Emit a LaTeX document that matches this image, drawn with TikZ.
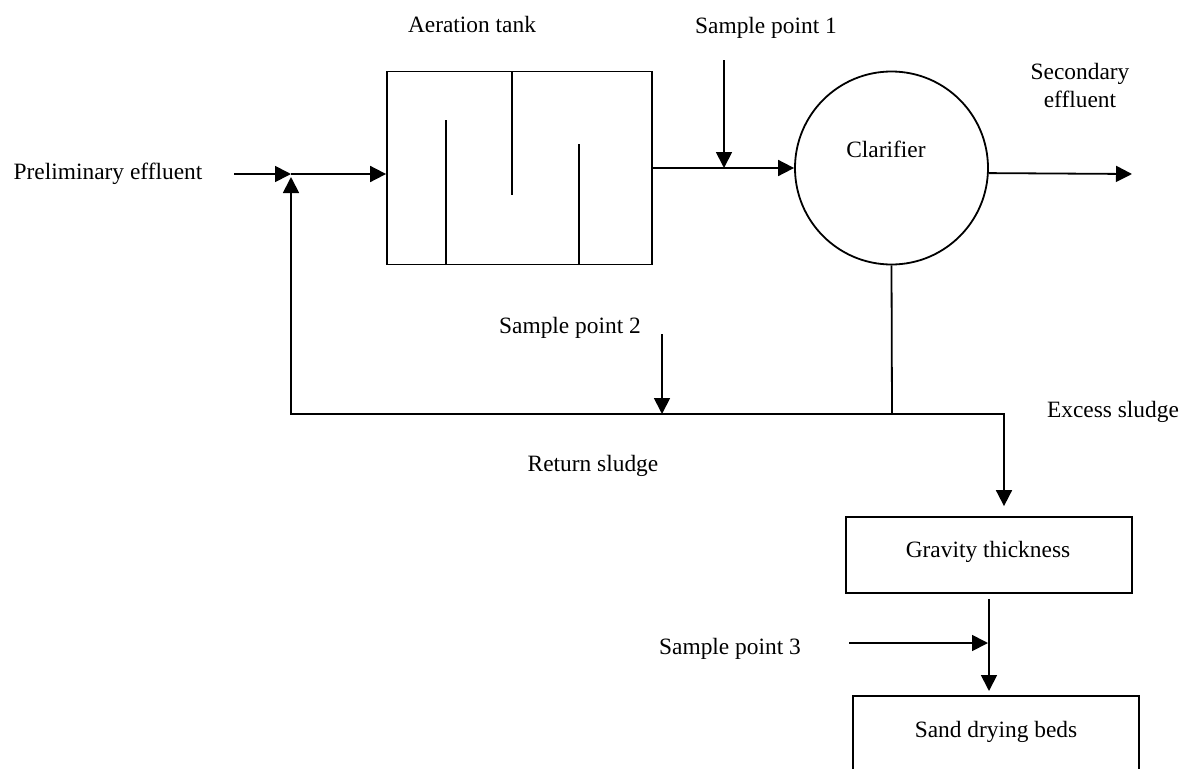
\documentclass[tikz,border=0pt]{standalone}
\usepackage{fontspec}
\setmainfont{Liberation Serif}
\usetikzlibrary{arrows.meta}
\begin{document}
\begin{tikzpicture}[x=1pt,y=-1pt,
  line width=1.8pt,
  flow/.style={-{Triangle[length=16pt,width=16pt]}},
  lbl/.style={font=\fontsize{23.4}{28}\selectfont, inner sep=0pt, anchor=base, align=center},
  unit/.style={draw, line width=1.8pt, inner sep=0pt}]
\clip (0,0) rectangle (1187,769);
\useasboundingbox (0,0) rectangle (1187,769);

% units
\node[unit, minimum width=265pt, minimum height=193pt] (tank) at (519.5,168) {};
\node[unit, circle, minimum size=193pt] (clar) at (891.5,168) {};
\node[unit, minimum width=286pt, minimum height=76pt] (grav) at (989,555) {};
\node[unit, minimum width=286pt, minimum height=120pt, anchor=north] (sand) at (996,695) {};

% baffles
\draw (446,265) -- (446,120);
\draw (512,72) -- (512,195);
\draw (579,265) -- (579,144);

% labels
\node[lbl] (prelim) at (108,179) {Preliminary effluent};
\node[lbl] (aer) at (472,32) {Aeration tank};
\node[lbl] (sp1) at (766,33) {Sample point 1};
\node[lbl] (sec) at (1080,107) {Secondary\\effluent};
\node[lbl] (clartxt) at (886,157) {Clarifier};
\node[lbl] (sp2) at (570,333) {Sample point 2};
\node[lbl] (ret) at (593,471) {Return sludge};
\node[lbl] (exs) at (1113,417) {Excess sludge};
\node[lbl] (gravtxt) at (988,557) {Gravity thickness};
\node[lbl] (sp3) at (730,654) {Sample point 3};
\node[lbl] (sandtxt) at (996,737) {Sand drying beds};

% coordinates
\coordinate (pstart) at (234,174);
\coordinate (junc) at (291,174);
\coordinate (juncb) at (291,177);
\coordinate (retcorner) at (291,414);
\coordinate (split) at (892,414);
\coordinate (exc) at (1004,414);
\coordinate (s1top) at (724,60);
\coordinate (s1pt) at (724,168);
\coordinate (s2top) at (662,334);
\coordinate (s2pt) at (662,414);
\coordinate (effout) at (1132,174);
\coordinate (s3start) at (849,643);
\coordinate (s3pt) at (988,643);

% connectors
\draw[flow] (pstart) -- (junc);
\draw[flow] (junc) -- (tank.west |- junc);
\draw[flow] (tank.east) -- (clar.west);
\draw[flow] (s1top) -- (s1pt);
\draw[flow] (clar.-3.56) -- (effout);
\draw (clar.south) -- (split);
\draw[flow] (split) -- (retcorner) -- (juncb);
\draw[flow] (s2top) -- (s2pt);
\draw[flow, shorten >=10pt] (split) -- (exc) -- (exc |- grav.north);
\draw[flow, shorten >=4pt] ([yshift=-5pt]grav.south) -- (grav.south |- sand.north);
\draw[flow] (s3start) -- (s3pt);
\end{tikzpicture}
\end{document}
